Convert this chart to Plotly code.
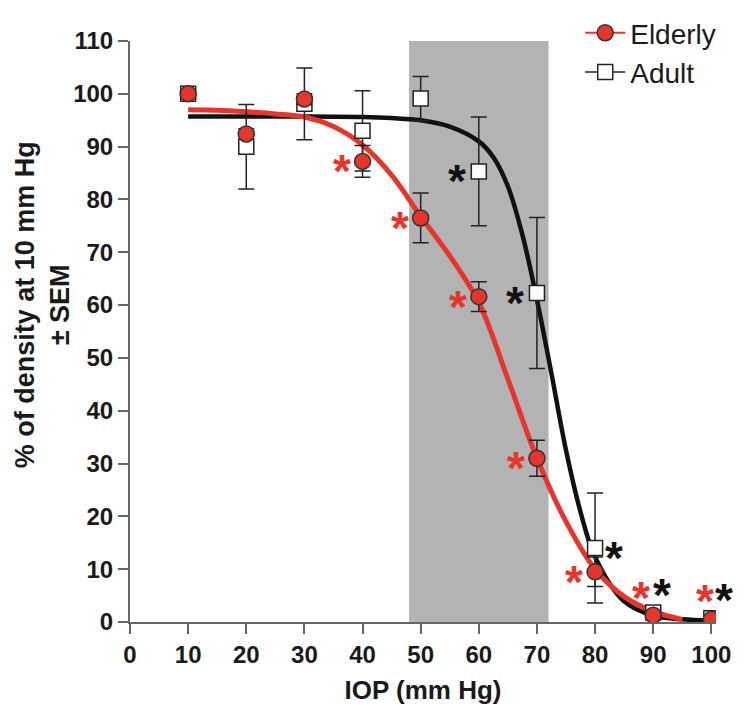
import plotly.graph_objects as go

# ---- data ----
iop = [10, 20, 30, 40, 50, 60, 70, 80, 90, 100]
elderly_mean = [100.0, 92.4, 99.0, 87.2, 76.5, 61.6, 31.0, 9.5, 1.3, 0.5]
elderly_sem = [0.0, 1.0, 1.0, 3.0, 4.7, 2.8, 3.4, 2.8, 0.5, 0.3]
adult_mean = [100.0, 90.0, 98.1, 93.0, 99.1, 85.3, 62.3, 14.0, 1.8, 0.7]
adult_sem = [0.0, 8.0, 6.8, 7.6, 4.2, 10.3, 14.3, 10.4, 0.8, 0.3]

# fitted curves
elderly_fit_x = [10, 15, 20, 25, 30, 35, 40, 45, 50, 55, 60, 65, 70, 75, 80, 85, 90, 95]
elderly_fit_y = [97.0, 96.9, 96.6, 96.2, 95.6, 93.8, 90.3, 84.6, 76.8, 69.3, 60.5, 46.0, 31.0, 19.0, 10.0, 4.8, 2.0, 0.5]
adult_fit_x = [10, 20, 30, 40, 45, 50, 55, 60, 62.5, 65, 67.5, 70, 72.5, 75, 77.5, 80, 85, 90, 95, 100]
adult_fit_y = [95.7, 95.7, 95.7, 95.6, 95.4, 95.0, 93.8, 91.0, 88.0, 82.5, 73.3, 61.0, 47.0, 32.5, 20.8, 12.3, 3.9, 1.2, 0.5, 0.3]

# significance (IOP levels flagged with an asterisk)
elderly_sig = [40, 50, 60, 70, 80, 90, 100]
adult_sig = [60, 70, 80, 90, 100]

shade_x0, shade_x1 = 48, 72
x_ticks = list(range(0, 101, 10))
y_ticks = list(range(0, 111, 10))

RED = "#e8352b"
FONT = "Liberation Sans, Arial, sans-serif"

fig = go.Figure()

fig.add_shape(type="rect", xref="x", yref="y", x0=shade_x0, x1=shade_x1, y0=0, y1=110,
              fillcolor="#b3b3b3", line_width=0, layer="below")

fig.add_trace(go.Scatter(x=adult_fit_x, y=adult_fit_y, mode="lines", line=dict(color="#111111", width=4.5, shape="spline"),
                         showlegend=False, hoverinfo="skip"))
fig.add_trace(go.Scatter(x=elderly_fit_x, y=elderly_fit_y, mode="lines", line=dict(color=RED, width=5, shape="spline"),
                         showlegend=False, hoverinfo="skip"))

fig.add_trace(go.Scatter(x=iop, y=adult_mean, mode="markers",
                         error_y=dict(type="data", array=adult_sem, color="#222222", thickness=1.5, width=8),
                         marker=dict(symbol="square", size=15, color="white", line=dict(color="#222222", width=1.5)),
                         showlegend=False))
fig.add_trace(go.Scatter(x=iop, y=elderly_mean, mode="markers",
                         error_y=dict(type="data", array=elderly_sem, color="#222222", thickness=1.5, width=8),
                         marker=dict(symbol="circle", size=16, color=RED, line=dict(color="#333333", width=1.5)),
                         showlegend=False))

# legend entries
fig.add_trace(go.Scatter(x=[None], y=[None], mode="lines+markers", name="Elderly",
                         line=dict(color=RED, width=2),
                         marker=dict(symbol="circle", size=16, color=RED, line=dict(color="#333333", width=1.5))))
fig.add_trace(go.Scatter(x=[None], y=[None], mode="lines+markers", name="Adult",
                         line=dict(color="#222222", width=1.5),
                         marker=dict(symbol="square", size=15, color="white", line=dict(color="#222222", width=1.5))))

ann = []
def star(x, y, color, dx, dy):
    ann.append(dict(x=x, y=y, xref="x", yref="y", text="*", showarrow=False,
                    font=dict(family=FONT, size=46, color=color, weight="bold"),
                    xshift=dx, yshift=dy - 10, xanchor="center", yanchor="middle"))

em = dict(zip(iop, elderly_mean))
am = dict(zip(iop, adult_mean))
for x in elderly_sig:
    if x <= 80:
        star(x, em[x], RED, -21, 0)
    elif x == 90:
        star(x, em[x], RED, -12, 27)
    else:
        star(x, em[x], RED, -6, 28)
for x in adult_sig:
    if x <= 70:
        star(x, am[x], "#111111", -22, 0)
    elif x == 80:
        star(x, am[x], "#111111", 19, 0)
    elif x == 90:
        star(x, am[x], "#111111", 9, 27)
    else:
        star(x, am[x], "#111111", 13, 28)

ann.append(dict(x=0, y=0.545, xref="paper", yref="paper", xshift=-88, showarrow=False,
                text="% of density at 10 mm Hg<br>± SEM", textangle=-90,
                font=dict(family=FONT, size=27, color="#1a1a1a", weight="bold"),
                xanchor="center", yanchor="middle"))

fig.update_layout(
    width=748, height=723,
    margin=dict(l=122, r=40, t=33, b=109, autoexpand=False),
    paper_bgcolor="white", plot_bgcolor="white",
    annotations=ann,
    legend=dict(xref="container", yref="container", x=0.765, y=1.016, xanchor="left", yanchor="top",
                font=dict(family=FONT, size=28, color="#1a1a1a"),
                bgcolor="rgba(0,0,0,0)", itemwidth=40, tracegroupgap=0),
    xaxis=dict(range=[0, 100.8], tickvals=x_ticks, showgrid=False, zeroline=False, automargin=False,
               showline=True, linecolor="#666666", linewidth=2,
               ticks="outside", ticklen=10, tickwidth=1.5, tickcolor="#666666",
               tickfont=dict(family=FONT, size=24, color="#1a1a1a", weight="bold"),
               title=dict(text="IOP (mm Hg)", standoff=14,
                          font=dict(family=FONT, size=26, color="#1a1a1a", weight="bold"))),
    yaxis=dict(range=[0, 110], tickvals=y_ticks, showgrid=False, zeroline=False, automargin=False,
               showline=True, linecolor="#666666", linewidth=2,
               ticks="outside", ticklen=10, tickwidth=1.5, tickcolor="#666666",
               tickfont=dict(family=FONT, size=24, color="#1a1a1a", weight="bold")),
)

fig.write_html("out.html")
